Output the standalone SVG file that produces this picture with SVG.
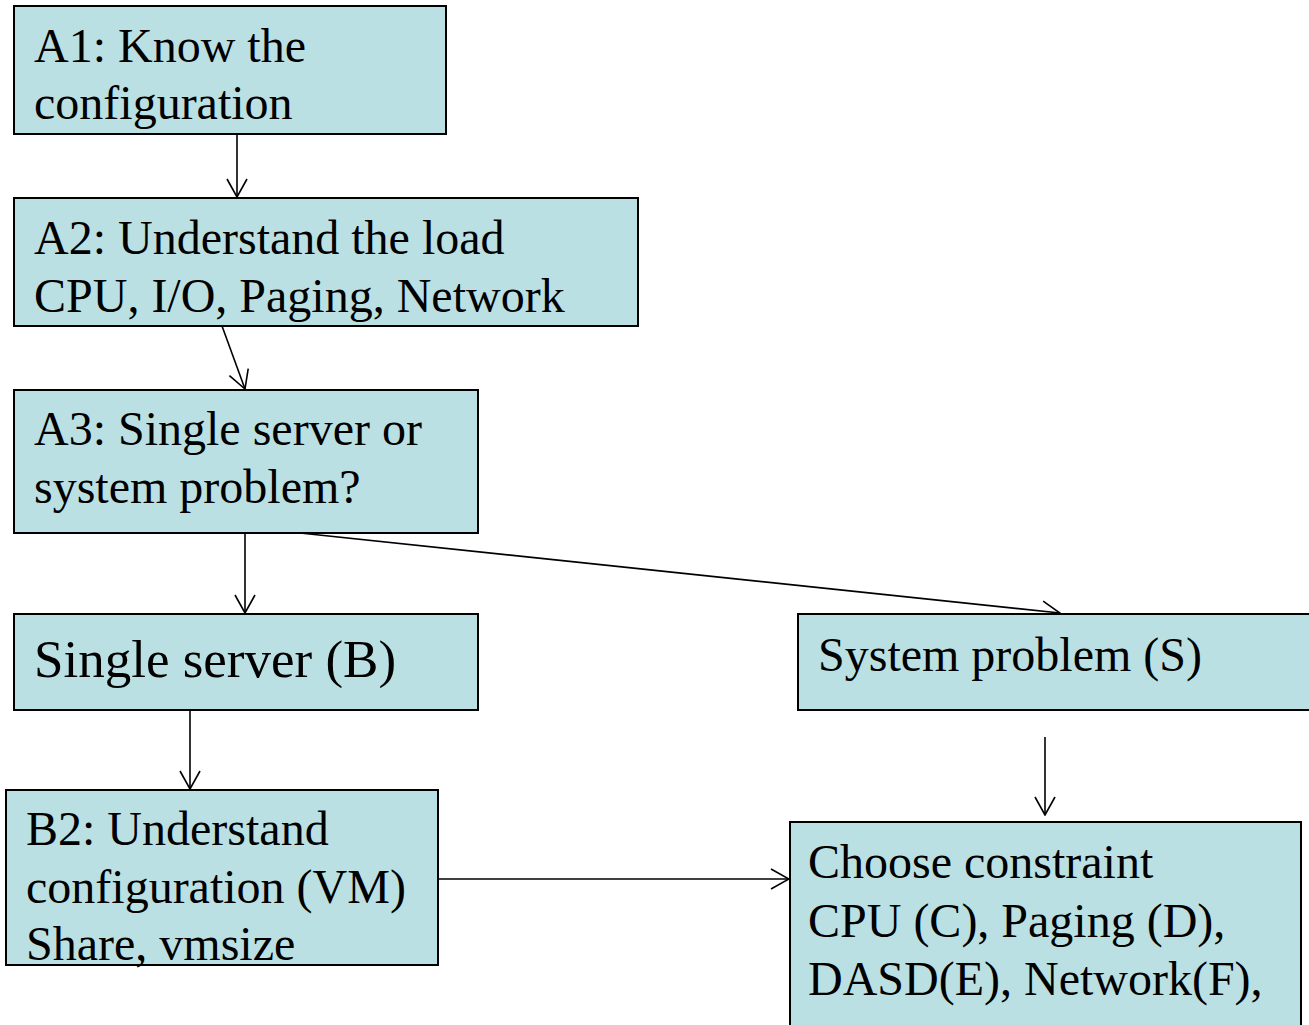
<svg xmlns="http://www.w3.org/2000/svg" width="1309" height="1025" viewBox="0 0 1309 1025">
  <style>
    .box { fill: #BBE0E3; stroke: #000; stroke-width: 2; }
    .lbl { font-family: "Liberation Serif", "Times New Roman", serif; font-size: 48px; fill: #000; }
    .big { font-size: 53px; }
    .edge { fill: none; stroke: #000; stroke-width: 1.6; marker-end: url(#open); }
  </style>
  <defs>
    <marker id="open" viewBox="0 0 20 22" refX="19" refY="11" markerWidth="20" markerHeight="22" markerUnits="userSpaceOnUse" orient="auto">
      <path d="M1,1 L19,11 L1,21" fill="none" stroke="#000" stroke-width="1.6"/>
    </marker>
  </defs>

  <rect width="1309" height="1025" fill="#fff"/>

  <!-- connectors, drawn first so the boxes sit on top of them -->
  <g id="connectors">
    <line class="edge" x1="237" y1="134" x2="237" y2="197"/>
    <line class="edge" x1="222" y1="326" x2="245" y2="389"/>
    <line class="edge" x1="245" y1="533" x2="245" y2="613"/>
    <line class="edge" x1="300" y1="533" x2="1060" y2="613"/>
    <line class="edge" x1="190" y1="710" x2="190" y2="789"/>
    <line class="edge" x1="1045" y1="737" x2="1045" y2="815"/>
    <line class="edge" x1="438" y1="879" x2="789" y2="879"/>
  </g>

  <g id="a1">
    <rect class="box" x="14" y="6" width="432" height="128"/>
    <text class="lbl" x="34" y="62">A1: Know the</text>
    <text class="lbl" x="34" y="119">configuration</text>
  </g>

  <g id="a2">
    <rect class="box" x="14" y="198" width="624" height="128"/>
    <text class="lbl" x="34" y="254">A2: Understand the load</text>
    <text class="lbl" x="34" y="312">CPU, I/O, Paging, Network</text>
  </g>

  <g id="a3">
    <rect class="box" x="14" y="390" width="464" height="143"/>
    <text class="lbl" x="34" y="445">A3: Single server or</text>
    <text class="lbl" x="34" y="503">system problem?</text>
  </g>

  <g id="single-server">
    <rect class="box" x="14" y="614" width="464" height="96"/>
    <text class="lbl big" x="34" y="677">Single server (B)</text>
  </g>

  <g id="system-problem">
    <rect class="box" x="798" y="614" width="530" height="96"/>
    <text class="lbl" x="818" y="671">System problem (S)</text>
  </g>

  <g id="b2">
    <rect class="box" x="6" y="790" width="432" height="175"/>
    <text class="lbl" x="26" y="845">B2: Understand</text>
    <text class="lbl" x="26" y="903">configuration (VM)</text>
    <text class="lbl" x="26" y="960">Share, vmsize</text>
  </g>

  <g id="choose-constraint">
    <rect class="box" x="790" y="822" width="511" height="230"/>
    <text class="lbl" x="808" y="878">Choose constraint</text>
    <text class="lbl" x="808" y="937">CPU (C), Paging (D),</text>
    <text class="lbl" x="808" y="995">DASD(E), Network(F),</text>
  </g>
</svg>
